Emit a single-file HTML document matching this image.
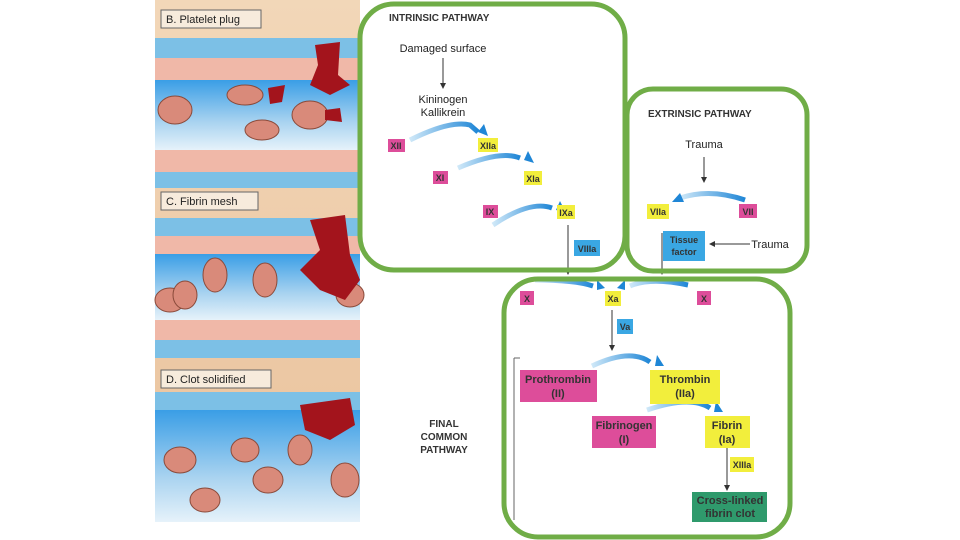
<!DOCTYPE html>
<html><head><meta charset="utf-8"><style>
body{margin:0;background:#fff;}
svg{display:block;font-family:"Liberation Sans",sans-serif;}
</style></head><body>
<svg width="960" height="540" viewBox="0 0 960 540">
<defs>
<linearGradient id="lumen" x1="0" y1="0" x2="0" y2="1">
<stop offset="0" stop-color="#3a9ee6"/><stop offset="0.6" stop-color="#a9d3f0"/><stop offset="1" stop-color="#e6f2fa"/>
</linearGradient>
<linearGradient id="tan" x1="0" y1="0" x2="0" y2="1">
<stop offset="0" stop-color="#f2d7b8"/><stop offset="1" stop-color="#eac29c"/>
</linearGradient>
<linearGradient id="arr" x1="0" y1="0" x2="1" y2="0">
<stop offset="0" stop-color="#cfe8f8"/><stop offset="1" stop-color="#1f86d6"/>
</linearGradient>
<marker id="ah" markerWidth="6" markerHeight="6" refX="3" refY="3" orient="auto"><path d="M0,0 L6,3 L0,6z" fill="#333"/></marker>
</defs>
<!-- left illustration -->
<rect x="155" y="0" width="205" height="522" fill="url(#tan)"/>
<!-- panel B -->
<rect x="155" y="38" width="205" height="20" fill="#7cc0e6"/>
<rect x="155" y="58" width="205" height="22" fill="#f0b8a8"/>
<rect x="155" y="80" width="205" height="70" fill="url(#lumen)"/>
<rect x="155" y="150" width="205" height="22" fill="#f0b8a8"/>
<rect x="155" y="172" width="205" height="16" fill="#7cc0e6"/>
<!-- panel C -->
<rect x="155" y="218" width="205" height="18" fill="#7cc0e6"/>
<rect x="155" y="236" width="205" height="18" fill="#f0b8a8"/>
<rect x="155" y="254" width="205" height="66" fill="url(#lumen)"/>
<rect x="155" y="320" width="205" height="20" fill="#f0b8a8"/>
<rect x="155" y="340" width="205" height="18" fill="#7cc0e6"/>
<!-- panel D -->
<rect x="155" y="392" width="205" height="18" fill="#7cc0e6"/>
<rect x="155" y="410" width="205" height="112" fill="url(#lumen)"/>
<!-- rbcs -->
<g fill="#d98a7a" stroke="#8a4a3a" stroke-width="1">
<ellipse cx="175" cy="110" rx="17" ry="14"/><ellipse cx="245" cy="95" rx="18" ry="10"/>
<ellipse cx="262" cy="130" rx="17" ry="10"/><ellipse cx="310" cy="115" rx="18" ry="14"/>
<ellipse cx="170" cy="300" rx="15" ry="12"/><ellipse cx="215" cy="275" rx="12" ry="17"/>
<ellipse cx="265" cy="280" rx="12" ry="17"/><ellipse cx="185" cy="295" rx="12" ry="14"/>
<ellipse cx="350" cy="295" rx="14" ry="12"/>
<ellipse cx="180" cy="460" rx="16" ry="13"/><ellipse cx="245" cy="450" rx="14" ry="12"/>
<ellipse cx="268" cy="480" rx="15" ry="13"/><ellipse cx="300" cy="450" rx="12" ry="15"/>
<ellipse cx="345" cy="480" rx="14" ry="17"/><ellipse cx="205" cy="500" rx="15" ry="12"/>
</g>
<g fill="#a3141c">
<path d="M315,45 L340,42 L338,75 L350,85 L330,95 L310,85 L318,65z"/>
<path d="M268,88 L285,85 L282,102 L270,104z"/>
<path d="M325,110 L340,108 L342,122 L325,120z"/>
<path d="M310,220 L345,215 L350,255 L360,280 L345,300 L320,290 L300,270 L320,250z"/>
<path d="M300,405 L350,398 L355,425 L330,440 L305,430z"/>
</g>
<g font-size="11" fill="#222">
<rect x="161" y="10" width="100" height="18" fill="#f7ebdc" stroke="#666"/><text x="166" y="23">B. Platelet plug</text>
<rect x="161" y="192" width="97" height="18" fill="#f7ebdc" stroke="#666"/><text x="166" y="205">C. Fibrin mesh</text>
<rect x="161" y="370" width="110" height="18" fill="#f7ebdc" stroke="#666"/><text x="166" y="383">D. Clot solidified</text>
</g>
<!-- diagram backgrounds -->
<rect x="360" y="4" width="265" height="266" rx="34" fill="#fff"/>
<rect x="627" y="89" width="180" height="182" rx="26" fill="#fff"/>
<rect x="504" y="279" width="286" height="258" rx="34" fill="#fff"/>
<g font-weight="bold" font-size="10" fill="#333">
<text x="389" y="21" font-size="10">INTRINSIC PATHWAY</text>
<text x="648" y="117">EXTRINSIC PATHWAY</text>
<text x="444" y="427" text-anchor="middle">FINAL</text>
<text x="444" y="440" text-anchor="middle">COMMON</text>
<text x="444" y="453" text-anchor="middle">PATHWAY</text>
</g>
<g font-size="11" fill="#222" text-anchor="middle">
<text x="443" y="52">Damaged surface</text>
<text x="443" y="103">Kininogen</text>
<text x="443" y="116">Kallikrein</text>
<text x="704" y="148">Trauma</text>
<text x="770" y="248">Trauma</text>
</g>
<g stroke="#333" stroke-width="1" marker-end="url(#ah)" fill="none">
<line x1="443" y1="58" x2="443" y2="86"/>
<line x1="568" y1="225" x2="568" y2="272"/>
<line x1="704" y1="157" x2="704" y2="180"/>
<line x1="662" y1="233" x2="662" y2="272"/>
<line x1="750" y1="244" x2="712" y2="244"/>
<line x1="612" y1="310" x2="612" y2="348"/>
<line x1="727" y1="445" x2="727" y2="488"/>
</g>
<line x1="514" y1="358" x2="514" y2="520" stroke="#666"/>
<line x1="514" y1="358" x2="520" y2="358" stroke="#666"/>
<!-- curved arrows -->
<g fill="none" stroke="url(#arr)" stroke-width="5">
<path d="M410,140 Q450,120 470,125 L478,132"/>
<path d="M458,168 Q500,150 520,158"/>
<path d="M493,225 Q530,200 552,208"/>
<path d="M535,280 Q575,280 593,286"/>
<path d="M688,285 Q650,277 630,286"/>
<path d="M745,200 Q710,188 680,198"/>
<path d="M592,366 Q630,348 650,362"/>
<path d="M647,410 Q690,395 710,408"/>
</g>
<g fill="#1f86d6">
<path d="M478,132 l6,-8 l4,12z"/><path d="M524,160 l4,-9 l6,12z"/><path d="M556,210 l4,-9 l6,12z"/>
<path d="M597,290 l0,-10 l8,8z"/><path d="M625,290 l0,-10 l-8,8z"/><path d="M672,202 l8,-9 l4,9z"/>
<path d="M655,366 l2,-11 l7,11z"/><path d="M714,412 l2,-11 l7,11z"/>
</g>
<!-- factor boxes -->
<g font-size="9" font-weight="bold" fill="#333" text-anchor="middle">
<rect x="388" y="139" width="17" height="13" fill="#dd4d9a"/><text x="396" y="149">XII</text>
<rect x="478" y="138" width="20" height="14" fill="#f2ee3c"/><text x="488" y="149">XIIa</text>
<rect x="433" y="171" width="15" height="13" fill="#dd4d9a"/><text x="440" y="181">XI</text>
<rect x="524" y="171" width="18" height="14" fill="#f2ee3c"/><text x="533" y="182">XIa</text>
<rect x="483" y="205" width="15" height="13" fill="#dd4d9a"/><text x="490" y="215">IX</text>
<rect x="557" y="205" width="18" height="14" fill="#f2ee3c"/><text x="566" y="216">IXa</text>
<rect x="574" y="240" width="26" height="16" fill="#3aa7e3"/><text x="587" y="252">VIIIa</text>
<rect x="647" y="204" width="22" height="15" fill="#f2ee3c"/><text x="658" y="215">VIIa</text>
<rect x="739" y="204" width="18" height="14" fill="#dd4d9a"/><text x="748" y="215">VII</text>
<rect x="663" y="231" width="42" height="30" fill="#3aa7e3"/><text x="684" y="243">Tissue</text><text x="684" y="255">factor</text>
<rect x="520" y="291" width="14" height="14" fill="#dd4d9a"/><text x="527" y="302">X</text>
<rect x="605" y="291" width="16" height="15" fill="#f2ee3c"/><text x="613" y="302">Xa</text>
<rect x="697" y="291" width="14" height="14" fill="#dd4d9a"/><text x="704" y="302">X</text>
<rect x="617" y="319" width="16" height="15" fill="#3aa7e3"/><text x="625" y="330">Va</text>
<g font-size="11">
<rect x="520" y="370" width="77" height="32" fill="#dd4d9a"/><text x="558" y="383">Prothrombin</text><text x="558" y="397">(II)</text>
<rect x="650" y="370" width="70" height="34" fill="#f2ee3c"/><text x="685" y="383">Thrombin</text><text x="685" y="397">(IIa)</text>
<rect x="592" y="416" width="64" height="32" fill="#dd4d9a"/><text x="624" y="429">Fibrinogen</text><text x="624" y="443">(I)</text>
<rect x="705" y="416" width="45" height="32" fill="#f2ee3c"/><text x="727" y="429">Fibrin</text><text x="727" y="443">(Ia)</text>
<rect x="692" y="492" width="75" height="30" fill="#2f9a6c"/><text x="730" y="504">Cross-linked</text><text x="730" y="517">fibrin clot</text>
</g>
<rect x="730" y="457" width="24" height="15" fill="#f2ee3c"/><text x="742" y="468">XIIIa</text>
</g>
<!-- green frames -->
<g fill="none" stroke="#70ad47" stroke-width="5">
<rect x="360" y="4" width="265" height="266" rx="34"/>
<rect x="627" y="89" width="180" height="182" rx="26"/>
<rect x="504" y="279" width="286" height="258" rx="34"/>
</g>
</svg>
</body></html>
